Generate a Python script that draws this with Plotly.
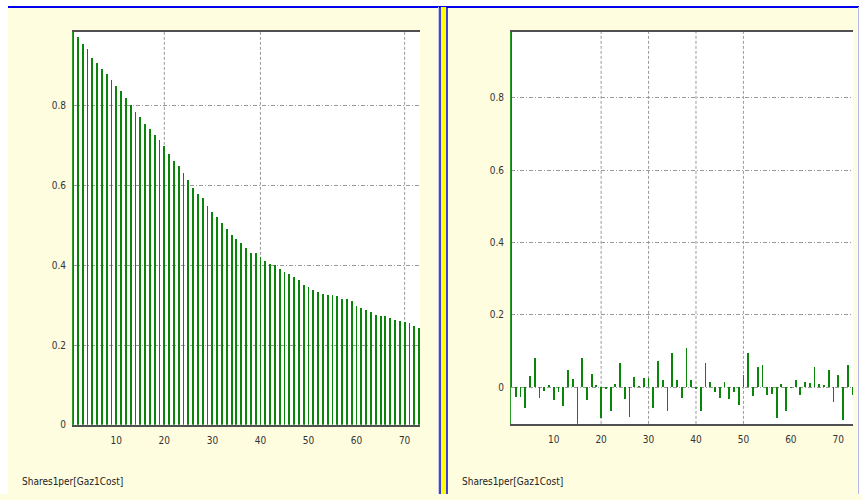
import plotly.graph_objects as go

# ---------------- data ----------------
lags = list(range(1, 74))

acf_values = [
    1.0,
    0.973, 0.956, 0.943, 0.921, 0.908, 0.892, 0.879, 0.864, 0.849, 0.836,
    0.819, 0.802, 0.784, 0.772, 0.755, 0.741, 0.728, 0.714, 0.700, 0.679,
    0.661, 0.648, 0.632, 0.613, 0.593, 0.580, 0.568, 0.549, 0.533, 0.520,
    0.507, 0.491, 0.476, 0.466, 0.456, 0.443, 0.431, 0.431, 0.421, 0.411,
    0.404, 0.400, 0.392, 0.383, 0.377, 0.371, 0.364, 0.351, 0.345, 0.339,
    0.332, 0.329, 0.326, 0.326, 0.322, 0.316, 0.316, 0.310, 0.297, 0.293,
    0.287, 0.284, 0.275, 0.272, 0.272, 0.268, 0.262, 0.260, 0.259, 0.256,
    0.248, 0.243,
]

pacf_values = [
    1.0,
    -0.027, -0.027, -0.056, 0.030, 0.082, -0.029, -0.009, 0.005, -0.035, -0.014,
    -0.053, 0.048, 0.023, -0.105, 0.082, -0.035, 0.038, 0.005, -0.086, -0.004,
    -0.066, 0.009, 0.066, -0.033, -0.082, 0.028, 0.004, 0.025, 0.027, -0.058,
    0.073, 0.021, -0.066, 0.094, 0.019, -0.029, 0.108, 0.019, -0.005, -0.066,
    0.066, 0.016, -0.014, -0.029, 0.016, -0.032, -0.012, -0.050, 0.033, 0.094,
    -0.025, 0.056, 0.062, -0.021, -0.019, -0.084, 0.008, -0.066, -0.003, 0.020,
    -0.021, 0.016, 0.012, 0.056, 0.009, 0.006, 0.048, -0.041, 0.033, -0.090,
    0.062, -0.021,
]

x_tick_values = [10, 20, 30, 40, 50, 60, 70]
x_tick_labels = ["10", "20", "30", "40", "50", "60", "70"]
y_tick_values = [0, 0.2, 0.4, 0.6, 0.8]
y_tick_labels = ["0", "0.2", "0.4", "0.6", "0.8"]
left_grid_x = [20, 40, 70]
right_grid_x = [20, 30, 40, 50]
series_label = "Shares1per[Gaz1Cost]"

# ---------------- styling ----------------
W, H = 862, 500
PANEL = "#FFFDE0"
BAR = "#0a850a"
GRID = "#9a9a9a"
FONT = "Liberation Sans Narrow, DejaVu Sans Condensed, Liberation Sans, sans-serif"


def px(x):
    return x / W


def py(y):
    return 1 - y / H


fig = go.Figure()
fig.add_trace(go.Bar(x=lags, y=acf_values, width=0.38, marker_color=BAR,
                     marker_line_width=0, xaxis="x", yaxis="y"))
fig.add_trace(go.Bar(x=lags, y=pacf_values, width=0.38, marker_color=BAR,
                     marker_line_width=0, xaxis="x2", yaxis="y2"))

tickfont = dict(family=FONT, size=10, color="#333333")

common_x = dict(tickmode="array", tickvals=x_tick_values, ticktext=x_tick_labels,
                showgrid=False, zeroline=False, showline=True, mirror=True,
                linecolor="#505050", linewidth=2, ticks="", tickfont=tickfont,
                ticklabelstandoff=5, fixedrange=True)
common_y = dict(tickmode="array", tickvals=y_tick_values, ticktext=y_tick_labels,
                showgrid=True, gridcolor=GRID, gridwidth=1, griddash="4px,2px,1px,2px",
                zeroline=False, showline=True, linecolor="#2a9a2a", linewidth=1,
                ticks="", tickfont=tickfont, ticklabelstandoff=4, fixedrange=True)

fig.update_layout(
    width=W, height=H,
    margin=dict(l=0, r=0, t=0, b=0),
    paper_bgcolor=PANEL,
    plot_bgcolor="white",
    showlegend=False,
    bargap=0,
    xaxis=dict(domain=[px(73), px(420)], range=[1, 73.2], anchor="y", **common_x),
    yaxis=dict(domain=[py(430), py(32)], range=[0, 0.986], anchor="x", **common_y),
    xaxis2=dict(domain=[px(511), px(853)], range=[1, 73.1], anchor="y2", **common_x),
    yaxis2=dict(domain=[py(429), py(32)], range=[-0.101, 0.983], anchor="x2", **common_y),
)

shapes = []
# vertical grid lines
for g in left_grid_x:
    shapes.append(dict(type="line", xref="x", yref="y domain", x0=g, x1=g, y0=0, y1=1,
                       line=dict(color=GRID, width=1, dash="3px,2px"), layer="below"))
for g in right_grid_x:
    shapes.append(dict(type="line", xref="x2", yref="y2 domain", x0=g, x1=g, y0=0, y1=1,
                       line=dict(color=GRID, width=1, dash="3px,2px"), layer="below"))

# window chrome: white margins, blue frame lines, yellow divider
shapes += [
    dict(type="rect", xref="paper", yref="paper", x0=0, x1=1, y0=py(6.5), y1=1,
         fillcolor="white", line_width=0, layer="above"),
    dict(type="rect", xref="paper", yref="paper", x0=0, x1=px(8), y0=0, y1=1,
         fillcolor="white", line_width=0, layer="above"),
    dict(type="rect", xref="paper", yref="paper", x0=px(859), x1=1, y0=0, y1=1,
         fillcolor="white", line_width=0, layer="above"),
    dict(type="line", xref="paper", yref="paper", x0=px(8), x1=px(859), y0=py(7.2), y1=py(7.2),
         line=dict(color="#0000EE", width=2), layer="above"),
    dict(type="line", xref="paper", yref="paper", x0=px(858.5), x1=px(858.5), y0=0, y1=py(7),
         line=dict(color="#B8B8F0", width=1), layer="above"),
    dict(type="line", xref="paper", yref="paper", x0=px(438.5), x1=px(438.5), y0=0, y1=py(7),
         line=dict(color="#C8C8F0", width=1), layer="above"),
    dict(type="rect", xref="paper", yref="paper", x0=px(440.5), x1=px(446.5), y0=0, y1=py(7),
         fillcolor="#FFFF00", line_width=0, layer="above"),
    dict(type="line", xref="paper", yref="paper", x0=px(440), x1=px(440), y0=0, y1=py(7),
         line=dict(color="#0000EE", width=1.5), layer="above"),
    dict(type="line", xref="paper", yref="paper", x0=px(447), x1=px(447), y0=0, y1=py(7),
         line=dict(color="#0000EE", width=1.5), layer="above"),
]
fig.update_layout(shapes=shapes)

labfont = dict(family=FONT, size=10, color="#222222")
fig.add_annotation(text=series_label, xref="paper", yref="paper", x=px(20), y=py(487),
                   xanchor="left", yanchor="middle", showarrow=False, font=labfont)
fig.add_annotation(text=series_label, xref="paper", yref="paper", x=px(460), y=py(487),
                   xanchor="left", yanchor="middle", showarrow=False, font=labfont)

fig.write_html(
    "out.html",
    config={"displayModeBar": False, "staticPlot": True},
    post_script="document.body.style.margin='0';document.body.style.overflow='hidden';",
)
